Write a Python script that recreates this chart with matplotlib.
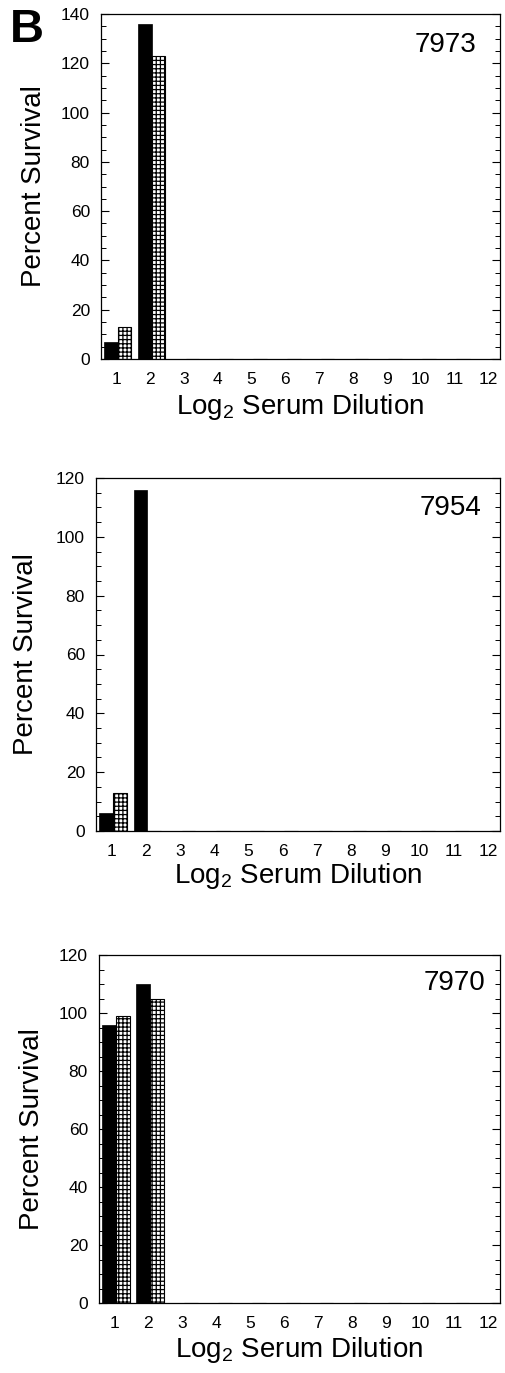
import matplotlib
matplotlib.use("Agg")
import matplotlib.pyplot as plt
import numpy as np
from matplotlib.ticker import MultipleLocator

plt.rcParams['font.family'] = ['Liberation Sans', 'DejaVu Sans']
plt.rcParams['mathtext.fontset'] = 'custom'
plt.rcParams['mathtext.rm'] = 'Liberation Sans'
plt.rcParams['hatch.linewidth'] = 0.9

# ---- data ----
dilutions = [1, 2, 3, 4, 5, 6, 7, 8, 9, 10, 11, 12]
tick_labels = [str(d) for d in dilutions]

serum_ids = ["7973", "7954", "7970"]
black_7973 = [7, 136, 0, 0, 0, 0, 0, 0, 0, 0, 0, 0]
dotted_7973 = [13, 123, 0, 0, 0, 0, 0, 0, 0, 0, 0, 0]
black_7954 = [6, 116, 0, 0, 0, 0, 0, 0, 0, 0, 0, 0]
dotted_7954 = [13, 0, 0, 0, 0, 0, 0, 0, 0, 0, 0, 0]
black_7970 = [96, 110, 0, 0, 0, 0, 0, 0, 0, 0, 0, 0]
dotted_7970 = [99, 105, 0, 0, 0, 0, 0, 0, 0, 0, 0, 0]
ymax = [140, 120, 120]

W, H = 505, 1373
fig = plt.figure(figsize=(W / 100, H / 100), dpi=100)

# axes boxes in pixel coords: left, top, right, bottom
boxes = [(101, 14, 500, 359), (96, 478, 500, 831), (99, 955, 500, 1303)]
id_pos = [(0.94, 0.91), (0.955, 0.915), (0.963, 0.92)]
ylab_x = [-0.135, -0.14, -0.135]
xlab_y = [-0.095, -0.085, -0.093]

blacks = [black_7973, black_7954, black_7970]
dotteds = [dotted_7973, dotted_7954, dotted_7970]

x = np.array(dilutions, dtype=float)
bw = 0.4
for i in range(3):
    l, t, r, b = boxes[i]
    ax = fig.add_axes([l / W, 1 - b / H, (r - l) / W, (b - t) / H])
    ax.bar(x - 0.15, blacks[i], width=bw, color='black', edgecolor='black', linewidth=0.5)
    ax.bar(x + 0.25, dotteds[i], width=bw, color='white', edgecolor='black',
           hatch='++++', linewidth=0.8)
    ax.set_xlim(0.55, 12.35)
    ax.set_ylim(0, ymax[i])
    ax.set_xticks(x)
    ax.set_xticklabels(tick_labels)
    ax.yaxis.set_major_locator(MultipleLocator(20))
    ax.yaxis.set_minor_locator(MultipleLocator(5))
    ax.tick_params(axis='x', length=0, pad=9, labelsize=12.5)
    ax.tick_params(axis='y', which='major', direction='in', length=6, width=0.8,
                   right=True, pad=8, labelsize=12.5)
    ax.tick_params(axis='y', which='minor', direction='in', length=3.5, width=0.7,
                   right=True)
    for s in ax.spines.values():
        s.set_linewidth(0.9)
        s.set_color('black')
    ax.set_ylabel('Percent Survival', fontsize=20)
    ax.yaxis.set_label_coords(ylab_x[i], 0.5)
    ax.set_xlabel(r'Log$_\mathregular{2}$ Serum Dilution', fontsize=20)
    ax.xaxis.set_label_coords(0.5, xlab_y[i])
    ax.text(id_pos[i][0], id_pos[i][1], serum_ids[i], transform=ax.transAxes,
            ha='right', va='center', fontsize=20)

fig.text(10 / W, 1 - 8 / H, 'B', fontsize=34, fontweight='bold', ha='left', va='top')

fig.savefig('out.png', dpi=100)
